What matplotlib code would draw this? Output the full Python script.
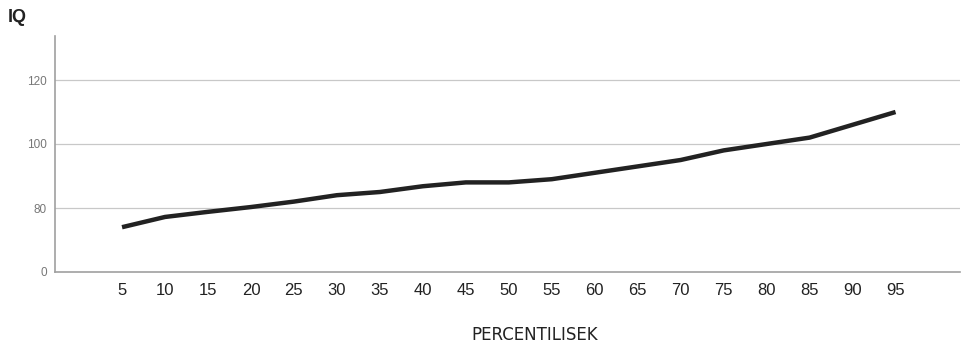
import matplotlib
matplotlib.use("Agg")
import matplotlib.pyplot as plt

percentiles = ["5", "10", "15", "20", "25", "30", "35", "40", "45", "50",
               "55", "60", "65", "70", "75", "80", "85", "90", "95"]
iq_values = [74, 77.2, 78.8, 80.3, 82, 84, 85, 86.8, 88, 88,
             89, 91, 93, 95, 98, 100, 102, 106, 110]
y_ticks = [60, 80, 100, 120]
y_tick_labels = ["0", "80", "100", "120"]

W, H = 964, 344
fig = plt.figure(figsize=(W / 100, H / 100), dpi=100)
ax = fig.add_axes([55 / W, (H - 272) / H, (960 - 55) / W, (272 - 36) / H])

x = list(range(len(percentiles)))
ax.plot(x, iq_values, color="#222222", linewidth=3.2, solid_capstyle="butt", zorder=3)

ax.set_xlim(-1.56, 19.5)
ax.set_ylim(60, 133.75)
ax.set_yticks(y_ticks)
ax.set_yticklabels(y_tick_labels)
ax.set_xticks(x)
ax.set_xticklabels(percentiles)

for t in y_ticks[1:]:
    ax.axhline(t, color="#c8c8c8", linewidth=0.9, zorder=1)

for s in ["top", "right"]:
    ax.spines[s].set_visible(False)
for s in ["left", "bottom"]:
    ax.spines[s].set_color("#a0a0a0")
    ax.spines[s].set_linewidth(1.2)

ax.tick_params(axis="y", length=0, pad=6, labelsize=8.5, labelcolor="#777777")
ax.tick_params(axis="x", length=0, pad=8, labelsize=12, labelcolor="#222222")
for lbl in ax.get_xticklabels() + ax.get_yticklabels():
    lbl.set_fontfamily("Liberation Sans")

fig.text(8 / W, 1 - 18 / H, "IQ", fontsize=13, fontweight="bold",
         family="Liberation Sans", va="center", ha="left", color="#222222")
fig.text(535 / W, 1 - 335 / H, "PERCENTILISEK", fontsize=12,
         family="DejaVu Sans", va="center", ha="center", color="#222222")

fig.savefig("out.png", dpi=100)
